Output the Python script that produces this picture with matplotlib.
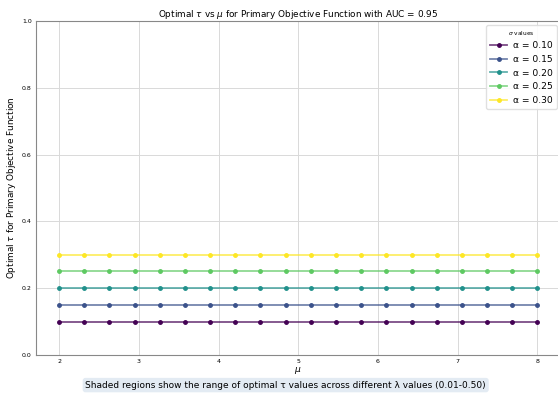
import numpy as np
import matplotlib
matplotlib.use("Agg")
import matplotlib.pyplot as plt

# mu grid and optimal tau per alpha (flat across mu)
mu_values = np.linspace(2, 8, 20)
alphas = [0.10, 0.15, 0.20, 0.25, 0.30]
optimal_tau = {
    0.10: [0.10] * 20,
    0.15: [0.15] * 20,
    0.20: [0.20] * 20,
    0.25: [0.25] * 20,
    0.30: [0.30] * 20,
}

colors = plt.cm.viridis(np.linspace(0, 1, len(alphas)))

fig = plt.figure(figsize=(5.58, 3.97), dpi=100)
ax = fig.add_axes([0.0645, 0.106, 0.94, 0.841])

for a, c in zip(alphas, colors):
    line_c = (c[0], c[1], c[2], 0.7)
    ax.plot(mu_values, optimal_tau[a], '-o', color=line_c, mfc=c, mec=c,
            linewidth=1.3, markersize=2.5, label=f'α = {a:.2f}')

ax.set_xlim(1.71, 8.29)
ax.set_ylim(0, 1.0)
ax.set_xticks([2, 3, 4, 5, 6, 7, 8])
ax.set_yticks([0.0, 0.2, 0.4, 0.6, 0.8, 1.0])
ax.tick_params(labelsize=4.5, length=0, pad=3)
ax.grid(True, color='#d9d9d9', linewidth=0.7)
for s in ax.spines.values():
    s.set_color('#888888')
    s.set_linewidth(0.8)

ax.set_title('Optimal $\\tau$ vs $\\mu$ for Primary Objective Function with AUC = 0.95',
             fontsize=6.4, pad=3)
ax.set_xlabel('$\\mu$', fontsize=6.6, labelpad=1)
ax.set_ylabel('Optimal $\\tau$ for Primary Objective Function', fontsize=6.4)
ax.yaxis.set_label_coords(-0.034, 0.5)

leg = ax.legend(title='$\\sigma$ values', fontsize=6.6, title_fontsize=4.2,
                loc='upper right', framealpha=0.9, edgecolor='#dddddd',
                handlelength=1.9, handletextpad=0.6, borderpad=0.45,
                labelspacing=0.5, borderaxespad=0.4)

fig.text(0.512, 0.03,
         'Shaded regions show the range of optimal τ values across different λ values (0.01-0.50)',
         ha='center', va='center', fontsize=6.5,
         bbox=dict(boxstyle='round,pad=0.3', facecolor='#dce6f0', edgecolor='none', alpha=0.8))

fig.savefig('out.png', dpi=100)
